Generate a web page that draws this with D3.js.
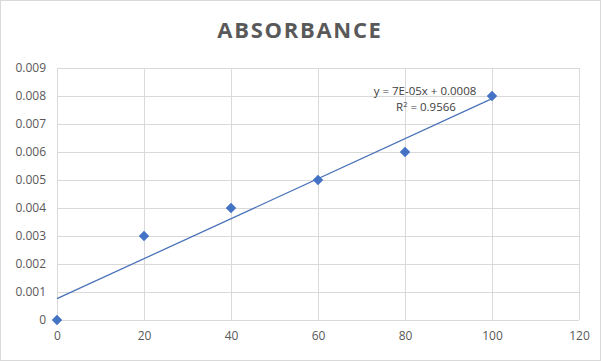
<!DOCTYPE html>
<html><head><meta charset="utf-8">
<script src="https://cdn.jsdelivr.net/npm/d3@7"></script>
<style>body{margin:0;background:#fff}svg{display:block}</style>
</head><body>
<svg id="c" width="601" height="361"></svg>
<script>
const xValues = [0, 20, 40, 60, 80, 100];
const yValues = [0, 0.003, 0.004, 0.005, 0.006, 0.008];
const xTicks = [0, 20, 40, 60, 80, 100, 120];
const yTicks = [0, 0.001, 0.002, 0.003, 0.004, 0.005, 0.006, 0.007, 0.008, 0.009];
const title = "ABSORBANCE";
const eqLabel = "y = 7E-05x + 0.0008";
const r2Value = "0.9566";

const svg = d3.select("#c");
svg.append("rect").attr("x",0.5).attr("y",0.5).attr("width",600).attr("height",360)
  .attr("fill","#fff").attr("stroke","#d9d9d9");

const x = d3.scaleLinear().domain([0,120]).range([57,579]);
const y = d3.scaleLinear().domain([0,0.009]).range([320,68]);
const font = "'Open Sans', 'Noto Sans', sans-serif";

// gridlines
svg.append("g").selectAll("line").data(yTicks).join("line")
  .attr("x1",x(0)).attr("x2",x(120)).attr("y1",d=>y(d)+0.5).attr("y2",d=>y(d)+0.5)
  .attr("stroke","#d9d9d9");
svg.append("g").selectAll("line").data(xTicks).join("line")
  .attr("y1",y(0)).attr("y2",y(0.009)).attr("x1",d=>x(d)+0.5).attr("x2",d=>x(d)+0.5)
  .attr("stroke","#d9d9d9");

// axes labels
const xAxis = d3.axisBottom(x).tickValues(xTicks).tickSize(0).tickPadding(11).tickFormat(d3.format("d"));
const gx = svg.append("g").attr("transform",`translate(0,${y(0)})`).call(xAxis);
gx.select(".domain").remove();
gx.selectAll("text").attr("fill","#595959").style("font-family",font).style("font-size","12px");

const yAxis = d3.axisLeft(y).tickValues(yTicks).tickSize(0).tickPadding(11).tickFormat(d=>d===0?"0":d3.format(".3f")(d));
const gy = svg.append("g").attr("transform",`translate(${x(0)},0)`).call(yAxis);
gy.select(".domain").remove();
gy.selectAll("text").attr("fill","#595959").style("font-family",font).style("font-size","12px");

// trendline via least squares
const mx = d3.mean(xValues), my = d3.mean(yValues);
const slope = d3.sum(xValues,(v,i)=>(v-mx)*(yValues[i]-my))/d3.sum(xValues,v=>(v-mx)**2);
const intercept = my - slope*mx;
const xmin = d3.min(xValues), xmax = d3.max(xValues);
svg.append("line")
  .attr("x1",x(xmin)).attr("y1",y(intercept+slope*xmin))
  .attr("x2",x(xmax)).attr("y2",y(intercept+slope*xmax))
  .attr("stroke","#4a73b8").attr("stroke-width",1.3);

// markers
const pts = xValues.map((v,i)=>[v,yValues[i]]);
svg.append("g").selectAll("path").data(pts).join("path")
  .attr("d",d3.symbol(d3.symbolDiamond2,70))
  .attr("transform",d=>`translate(${x(d[0])},${y(d[1])})`)
  .attr("fill","#4472c4");

// equation text
const eq = svg.append("g").style("font-family",font).style("font-size","11.5px").attr("fill","#404040");
eq.append("text").attr("x",425).attr("y",95).attr("text-anchor","middle").text(eqLabel);
const r = eq.append("text").attr("x",426).attr("y",111).attr("text-anchor","middle");
r.append("tspan").text("R");
r.append("tspan").attr("dy",-4).style("font-size","7.5px").text("2");
r.append("tspan").attr("dy",4).text(" = " + r2Value);

// title
svg.append("text").attr("x",300).attr("y",38).attr("text-anchor","middle")
  .style("font-family",font).style("font-size","22px").style("font-weight","bold")
  .style("letter-spacing","1.7px").attr("fill","#595959").text(title);
</script>
</body></html>
